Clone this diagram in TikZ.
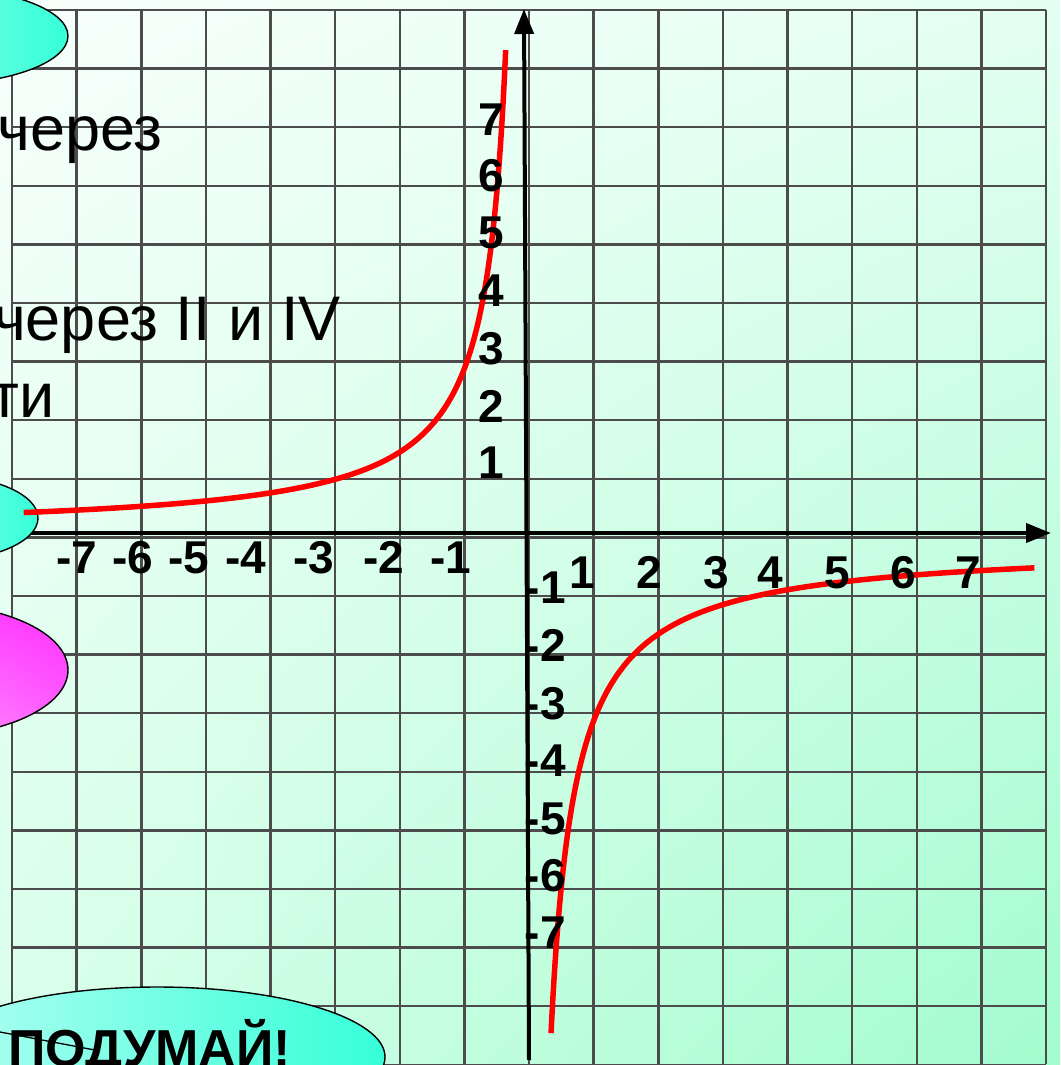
\documentclass[tikz,border=0pt]{standalone}
\usepackage{fontspec}
\setmainfont{Liberation Sans}
\usetikzlibrary{arrows.meta,shadings}
\definecolor{gridgray}{HTML}{4C4C4C}
\definecolor{bgUL}{HTML}{F8FFFC}
\definecolor{bgUR}{HTML}{E4FFF2}
\definecolor{bgLL}{HTML}{D8FFEA}
\definecolor{bgLR}{HTML}{A2FCCE}
\definecolor{cyanA}{HTML}{B4FFF2}
\definecolor{cyanB}{HTML}{36FFD8}
\definecolor{magA}{HTML}{FF30FF}
\definecolor{magB}{HTML}{FF55FF}
\definecolor{magC}{HTML}{FFD0FF}
\definecolor{magD}{HTML}{FF60FF}
\begin{document}
\begin{tikzpicture}[x=1pt,y=-1pt,
  gridline/.style={draw=gridgray, line width=2.5pt},
  axisline/.style={draw=black, line width=4pt, -{Triangle[length=25pt,width=19pt]}},
  curve/.style={draw=red, line width=5.5pt, line cap=butt, line join=round},
  tick/.style={font=\fontsize{46}{46}\selectfont\bfseries, inner sep=0pt, text=black},
  bigtext/.style={font=\fontsize{63}{63}\selectfont, inner sep=0pt, anchor=base east},
  oval/.style={draw=black, line width=1.4pt},
  cyanoval/.style={oval, left color=cyanA, right color=cyanB},
  thinline/.style={draw=black, line width=1.3pt}]
\useasboundingbox (0,0) rectangle (1060,1065);
\clip (0,0) rectangle (1060,1065);
% background
\shade[upper left=bgUL, upper right=bgUR, lower left=bgLL, lower right=bgLR] (0,0) rectangle (1060,1065);
% grid
\foreach \i in {0,...,16} {
  \draw[gridline] ({12+64.63*\i},10) -- ({12+64.63*\i},1064);
}
\foreach \j in {0,...,18} {
  \draw[gridline] (12,{10+58.6*\j}) -- (1046,{10+58.6*\j});
}
% axes
\coordinate (xa0) at (20,533);
\coordinate (xa1) at (1051,533);
\coordinate (ya0) at (529,1060);
\coordinate (ya1) at (524,9);
\draw[axisline] (xa0) -- (xa1);
\draw[axisline] (ya0) -- (ya1);
% ovals
\shade[cyanoval] (-70,36) ellipse [x radius=138pt, y radius=49pt];
\shade[cyanoval] (-62,518) ellipse [x radius=100pt, y radius=43pt];
\shade[oval, upper left=magB, upper right=magA, lower left=magC, lower right=magD] (-72,670) ellipse [x radius=140pt, y radius=66pt];
\shade[oval, left color=cyanA, middle color=white, right color=cyanB] (157,1057) ellipse [x radius=228pt, y radius=70pt];
\coordinate (l0) at (0,1032);
\coordinate (l1) at (100,1051);
\draw[thinline] (l0) -- (l1);
% curve: hyperbola branches, parametrised by t = ln|X|
\draw[curve] plot[smooth, domain=2.053:-1.109, samples=90, variable=\t]
  ({527-64.6*exp(\t)}, {533-58.6*2.72/exp(\t)});
\draw[curve] plot[smooth, domain=-0.989:2.062, samples=90, variable=\t]
  ({527+64.6*exp(\t)}, {533+58.6*(3.1/exp(\t)+0.2)});
% x labels
\node[tick, anchor=base] (xm7) at (77,573) {-7};
\node[tick, anchor=base] (xm6) at (133,573) {-6};
\node[tick, anchor=base] (xm5) at (189,573) {-5};
\node[tick, anchor=base] (xm4) at (246,573) {-4};
\node[tick, anchor=base] (xm3) at (314,573) {-3};
\node[tick, anchor=base] (xm2) at (384,573) {-2};
\node[tick, anchor=base] (xm1) at (451,573) {-1};
\node[tick, anchor=base] (xp1) at (582,588) {1};
\node[tick, anchor=base] (xp2) at (649,588) {2};
\node[tick, anchor=base] (xp3) at (716,588) {3};
\node[tick, anchor=base] (xp4) at (770,588) {4};
\node[tick, anchor=base] (xp5) at (837,588) {5};
\node[tick, anchor=base] (xp6) at (903,588) {6};
\node[tick, anchor=base] (xp7) at (968,588) {7};
% y labels
\node[tick, anchor=base] (yp7) at (491,135) {7};
\node[tick, anchor=base] (yp6) at (491,191) {6};
\node[tick, anchor=base] (yp5) at (491,248) {5};
\node[tick, anchor=base] (yp4) at (491,306) {4};
\node[tick, anchor=base] (yp3) at (491,364) {3};
\node[tick, anchor=base] (yp2) at (491,422) {2};
\node[tick, anchor=base] (yp1) at (491,478) {1};
\node[tick, anchor=base east] (ym1) at (566,603) {-1};
\node[tick, anchor=base east] (ym2) at (566,661) {-2};
\node[tick, anchor=base east] (ym3) at (566,719) {-3};
\node[tick, anchor=base east] (ym4) at (566,776) {-4};
\node[tick, anchor=base east] (ym5) at (566,834) {-5};
\node[tick, anchor=base east] (ym6) at (566,891) {-6};
\node[tick, anchor=base east] (ym7) at (566,948) {-7};
% texts
\node[bigtext] (t1) at (163,150) {через};
\node[bigtext] (t2) at (341,340) {через II и IV};
\node[bigtext] (t3) at (55,417) {ти};
\node[font=\fontsize{52}{52}\selectfont\bfseries, inner sep=0pt, anchor=base west] (think) at (8,1066) {ПОДУМАЙ!};
\end{tikzpicture}
\end{document}
